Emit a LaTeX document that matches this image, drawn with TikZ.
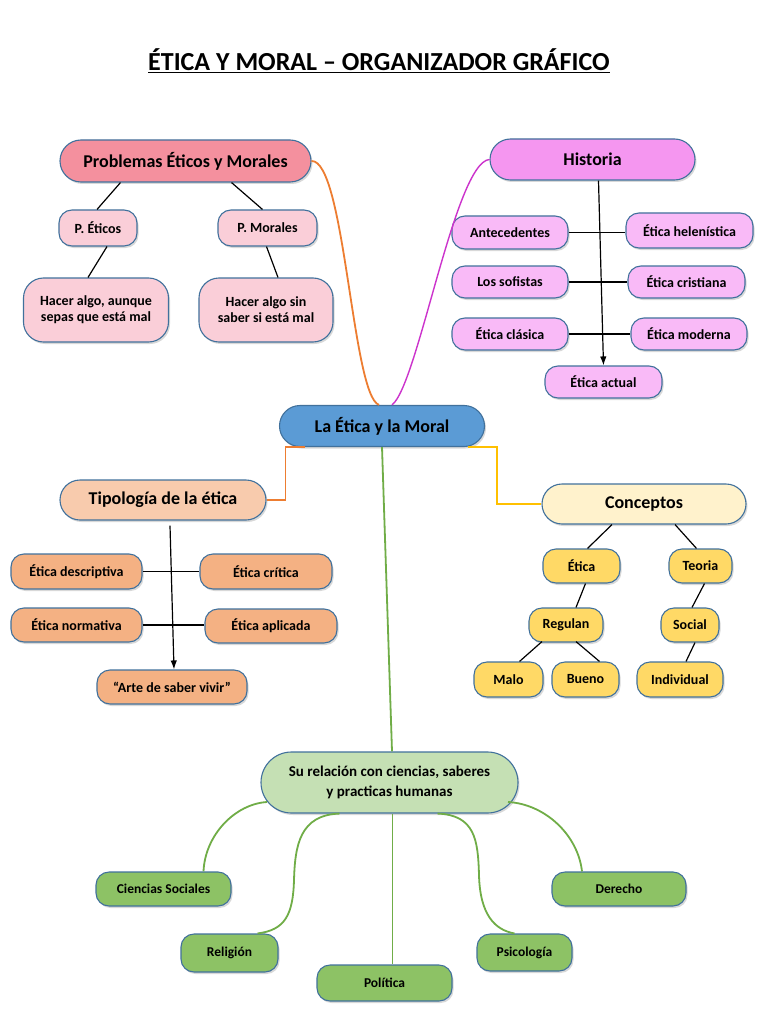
\documentclass[tikz,border=0pt]{standalone}
\usepackage{fontspec}
\setmainfont{Carlito}
\usetikzlibrary{shapes.misc, positioning, shadows, arrows.meta}

\definecolor{borde}{RGB}{65,113,156}
\definecolor{probfuerte}{RGB}{244,144,158}
\definecolor{probsuave}{RGB}{250,206,216}
\definecolor{histfuerte}{RGB}{245,150,240}
\definecolor{histsuave}{RGB}{249,186,247}
\definecolor{centro}{RGB}{91,155,213}
\definecolor{tipfuerte}{RGB}{248,203,173}
\definecolor{tipsuave}{RGB}{244,177,131}
\definecolor{concfuerte}{RGB}{255,242,204}
\definecolor{concsuave}{RGB}{255,217,102}
\definecolor{relfuerte}{RGB}{197,224,180}
\definecolor{relsuave}{RGB}{141,194,101}
\definecolor{naranja}{RGB}{237,125,49}
\definecolor{amarillo}{RGB}{255,192,0}
\definecolor{verde}{RGB}{112,173,71}
\definecolor{lila}{RGB}{204,51,204}

\begin{document}
\begin{tikzpicture}[x=1pt, y=-1pt,
	caja/.style={draw=borde, line width=1.1pt, align=center, inner sep=1pt, font=\bfseries\fontsize{14}{16}\selectfont, drop shadow={opacity=0.3, shadow xshift=1.5pt, shadow yshift=-2pt}},
	chica/.style={caja, rectangle, rounded corners=13pt},
	grande/.style={caja, rounded rectangle, font=\bfseries\fontsize{18}{21}\selectfont},
	verdechica/.style={chica, fill=relsuave, font=\bfseries\fontsize{13.5}{16}\selectfont},
	tam/.style 2 args={minimum width=#1pt, minimum height=#2pt},
	linea/.style={draw, line width=1.2pt},
	flecha/.style={linea, -{Latex[length=9pt, width=6.5pt]}},
	rama/.style={draw, line width=1.8pt}]
		\fill[white] (0,0) rectangle (768,1024);
		\useasboundingbox (0,0) rectangle (768,1024);
		\node (titulo) [anchor=base, font=\bfseries\fontsize{26}{31}\selectfont] at (379,71) {\underline{ÉTICA Y MORAL – ORGANIZADOR GRÁFICO}};

		\node (prob) [grande, tam={253}{42}, fill=probfuerte] at (185.5,161) {Problemas Éticos y Morales};
		\node (peticos) [chica, tam={78}{36}, fill=probsuave] at (98,228) {P. Éticos};
		\node (pmorales) [chica, tam={99}{36}, fill=probsuave] at (267.5,228) {P. Morales};
		\node (hacer1) [chica, tam={145}{64}, fill=probsuave, rounded corners=20pt] at (96,310) {Hacer algo, aunque\\sepas que está mal};
		\node (hacer2) [chica, tam={134}{64}, fill=probsuave, rounded corners=20pt] at (266,310) {Hacer algo sin\\saber si está mal};
		\draw[linea] ([xshift=-65pt]prob.south) -- ([xshift=-1pt]peticos.north);
		\draw[linea] ([xshift=46pt]prob.south) -- ([xshift=-5pt]pmorales.north);
		\draw[linea] ([xshift=9pt]peticos.south) -- ([xshift=-8pt]hacer1.north);
		\draw[linea] ([xshift=-1pt]pmorales.south) -- ([xshift=12pt]hacer2.north);

		\node (hist) [grande, tam={207}{41}, fill=histfuerte] at (592.5,159.5) {Historia};
		\node (antec) [chica, tam={116}{33}, fill=histsuave] at (510,232.5) {Antecedentes};
		\node (helen) [chica, tam={127}{35}, fill=histsuave] at (689.5,230.5) {Ética helenística};
		\node (sofist) [chica, tam={116}{32}, fill=histsuave] at (510,282) {Los sofistas};
		\node (crist) [chica, tam={117}{32}, fill=histsuave] at (686.5,282) {Ética cristiana};
		\node (clasica) [chica, tam={116}{32}, fill=histsuave] at (510,334) {Ética clásica};
		\node (moderna) [chica, tam={116}{32}, fill=histsuave] at (689,334) {Ética moderna};
		\node (actual) [chica, tam={117}{32}, fill=histsuave] at (603.5,382) {Ética actual};
		\draw[linea] (antec.east) -- (antec.east -| helen.west);
		\draw[linea, line width=2.2pt] (sofist.east) -- (sofist.east -| crist.west);
		\draw[linea] (clasica.east) -- (clasica.east -| moderna.west);
		\draw[flecha] ([xshift=6pt]hist.south) -- (actual.north);

		\node (cent) [grande, tam={207}{41}, fill=centro] at (382,426) {La Ética y la Moral};
		\draw[rama, naranja] (prob.east) .. controls (345,160) and (352,395) .. ([xshift=-3pt]cent.north);
		\draw[rama, lila, line width=1.4pt] (hist.west) .. controls (455,162) and (418,385) .. ([xshift=10pt]cent.north);

		\node (tip) [grande, tam={208}{40}, fill=tipfuerte] at (163,500) {Tipología de la ética};
		\node (desc) [chica, tam={131}{35}, fill=tipsuave] at (76.5,571.5) {Ética descriptiva};
		\node (critica) [chica, tam={132}{35}, fill=tipsuave] at (266,571.5) {Ética crítica};
		\node (norm) [chica, tam={131}{34}, fill=tipsuave] at (76.5,625) {Ética normativa};
		\node (aplic) [chica, tam={132}{34}, fill=tipsuave] at (271,626) {Ética aplicada};
		\node (arte) [chica, tam={150}{34}, fill=tipsuave] at (172,687) {“Arte de saber vivir”};
		\draw[rama, naranja] (tip.east) -- ++(19pt,0) |- ([xshift=-77pt]cent.south);
		\draw[linea] (desc.east) -- (desc.east -| critica.west);
		\draw[linea] (norm.east) -- (norm.east -| aplic.west);
		\draw[flecha] ([xshift=7pt,yshift=-5pt]tip.south) -- ([xshift=2pt]arte.north);

		\node (conc) [grande, tam={206}{40}, fill=concfuerte] at (644,504) {Conceptos};
		\node (etica) [chica, tam={77}{34}, fill=concsuave] at (581.5,566) {Ética};
		\node (teoria) [chica, tam={63}{34}, fill=concsuave] at (700.5,566) {Teoria};
		\node (regulan) [chica, tam={74}{34}, fill=concsuave] at (566,625) {Regulan};
		\node (social) [chica, tam={58}{34}, fill=concsuave] at (690,625) {Social};
		\node (malo) [chica, tam={69}{35}, fill=concsuave] at (508.5,679.5) {Malo};
		\node (bueno) [chica, tam={67}{35}, fill=concsuave] at (585.5,679.5) {Bueno};
		\node (indiv) [chica, tam={86}{35}, fill=concsuave] at (680,679.5) {Individual};
		\draw[rama, amarillo] ([xshift=86pt]cent.south) -- ++(29pt,0) |- (conc.west);
		\draw[linea] ([xshift=-32pt]conc.south) -- ([xshift=6pt]etica.north);
		\draw[linea] ([xshift=31pt]conc.south) -- ([xshift=-4pt]teoria.north);
		\draw[linea] ([xshift=4pt]etica.south) -- ([xshift=10pt]regulan.north);
		\draw[linea] ([xshift=4pt]teoria.south) -- ([xshift=2pt]social.north);
		\draw[linea] ([xshift=-24pt,yshift=1pt]regulan.south) -- ([xshift=11pt]malo.north);
		\draw[linea] ([xshift=10pt,yshift=1pt]regulan.south) -- ([xshift=14pt]bueno.north);
		\draw[linea] ([xshift=5pt]social.south) -- ([xshift=6pt]indiv.north);

		\node (rel) [grande, tam={259}{61}, fill=relfuerte, font=\bfseries\fontsize{15}{19.5}\selectfont] at (389.5,782.5) {Su relación con ciencias, saberes\\y practicas humanas};
		\node (ciencias) [verdechica, tam={135}{34}] at (163.5,889) {Ciencias Sociales};
		\node (religion) [verdechica, tam={97}{38}] at (229.5,953) {Religión};
		\node (politica) [verdechica, tam={135}{36}] at (384.5,983) {Política};
		\node (psico) [verdechica, tam={95}{37}] at (524.5,952.5) {Psicología};
		\node (derecho) [verdechica, tam={134}{34}] at (619,889) {Derecho};
		\draw[rama, verde] (cent.south) -- ([xshift=2.5pt]rel.north);
		\draw[rama, verde] ([xshift=-122.5pt,yshift=-19.5pt]rel.center) .. controls (235,804) and (205,835) .. ([xshift=40pt]ciencias.north);
		\draw[rama, verde] ([xshift=-50pt]rel.south) .. controls (300,815) and (295,845) .. (294,880) .. controls (293,915) and (285,930) .. ([xshift=28pt]religion.north);
		\draw[rama, verde] ([xshift=3pt]rel.south) -- ([xshift=8pt]politica.north);
		\draw[rama, verde] ([xshift=48pt]rel.south) .. controls (475,815) and (478,840) .. (479,875) .. controls (480,915) and (495,930) .. ([xshift=-10pt]psico.north);
		\draw[rama, verde] ([xshift=118.5pt,yshift=-19.5pt]rel.center) .. controls (545,804) and (578,835) .. ([xshift=-37pt]derecho.north);
\end{tikzpicture}
\end{document}
